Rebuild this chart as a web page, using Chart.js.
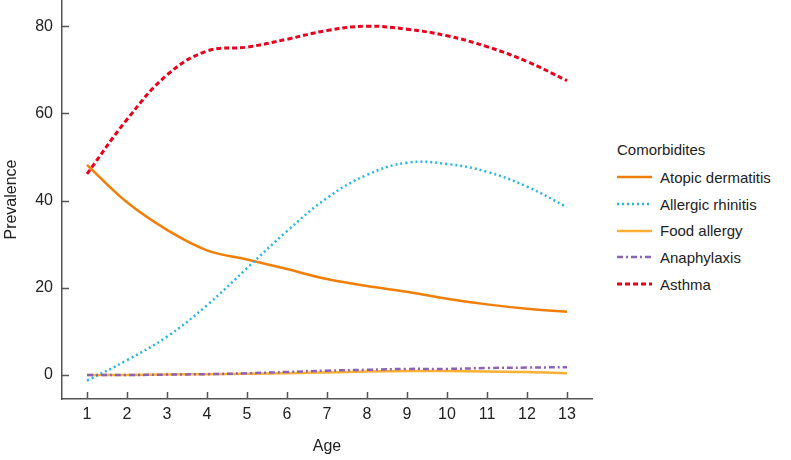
<!DOCTYPE html>
<html lang="en">
<head>
  <meta charset="UTF-8">
  <title>Comorbidities by age</title>
  <script src="https://cdn.jsdelivr.net/npm/chart.js"></script>
  <style>
    body {
      margin: 0;
      background: #fff;
      font-family: 'Liberation Sans', Arial, sans-serif;
      color: #222;
    }
    .wrap {
      position: relative;
      width: 791px;
      height: 460px;
    }
    .plot {
      position: absolute;
      left: 0;
      top: 0;
      width: 600px;
      height: 460px;
    }
    .legend {
      position: absolute;
      left: 617px;
      top: 140px;
      font-size: 15px;
      color: #222;
    }
    .legend-title {
      height: 24px;
      line-height: 20px;
    }
    .legend-row {
      height: 26.7px;
      display: flex;
      align-items: center;
    }
    .legend-row svg {
      margin-right: 7px;
    }
  </style>
</head>
<body>
  <div class="wrap">
    <div class="plot"><canvas id="chart" width="600" height="460"></canvas></div>
    <div class="legend" id="legend"></div>
  </div>

  <script>
    // data
    const ages = [1, 2, 3, 4, 5, 6, 7, 8, 9, 10, 11, 12, 13];
    const atopicDermatitis = [48.2, 39.6, 33.3, 28.6, 26.5, 24.3, 22.0, 20.4, 19.1, 17.5, 16.2, 15.2, 14.5];
    const allergicRhinitis = [-1.3, 3.4, 8.8, 16.0, 24.5, 33.0, 40.6, 45.9, 48.7, 48.4, 46.6, 43.2, 38.5];
    const foodAllergy = [0.0, 0.0, 0.1, 0.2, 0.3, 0.4, 0.6, 0.8, 0.9, 0.9, 0.8, 0.7, 0.4];
    const anaphylaxis = [0.0, 0.0, 0.1, 0.2, 0.4, 0.7, 1.0, 1.2, 1.4, 1.4, 1.6, 1.7, 1.8];
    const asthma = [46.1, 58.6, 68.8, 74.3, 75.2, 77.0, 79.0, 80.0, 79.3, 77.8, 75.3, 71.9, 67.5];
    const yTicks = [0, 20, 40, 60, 80];

    const series = [
      { label: 'Atopic dermatitis', values: atopicDermatitis, color: '#f07f09', dash: [], width: 2.5, order: 3 },
      { label: 'Allergic rhinitis', values: allergicRhinitis, color: '#27b5e2', dash: [2, 3], width: 2.5, order: 2 },
      { label: 'Food allergy', values: foodAllergy, color: '#fbb034', dash: [], width: 2.5, order: 4 },
      { label: 'Anaphylaxis', values: anaphylaxis, color: '#8a62b6', dash: [6, 3, 2, 3], width: 2.5, order: 1 },
      { label: 'Asthma', values: asthma, color: '#e8001c', dash: [5, 3], width: 3, order: 0 }
    ];

    const axisColor = '#555';
    const font = { family: "'Liberation Sans', Arial, sans-serif", size: 16 };

    // inner tick marks on both axes
    const innerTicks = {
      id: 'innerTicks',
      afterDraw(chart) {
        const c = chart.ctx;
        const xs = chart.scales.x, ys = chart.scales.y;
        const a = chart.chartArea;
        c.save();
        c.strokeStyle = axisColor;
        c.lineWidth = 1.5;
        c.beginPath();
        ages.forEach(v => {
          const px = Math.round(xs.getPixelForValue(v)) + 0.5;
          c.moveTo(px, a.bottom);
          c.lineTo(px, a.bottom - 7);
        });
        yTicks.forEach(v => {
          const py = Math.round(ys.getPixelForValue(v)) + 0.5;
          c.moveTo(a.left, py);
          c.lineTo(a.left + 7, py);
        });
        c.stroke();
        c.restore();
      }
    };

    const ctx = document.getElementById('chart').getContext('2d');
    const chart = new Chart(ctx, {
      type: 'line',
      data: {
        datasets: series.map(s => ({
          label: s.label,
          data: ages.map((a, i) => ({ x: a, y: s.values[i] })),
          borderColor: s.color,
          borderWidth: s.width,
          borderDash: s.dash,
          borderCapStyle: 'butt',
          pointRadius: 0,
          fill: false,
          tension: 0.4,
          order: s.order
        }))
      },
      options: {
        responsive: false,
        animation: false,
        devicePixelRatio: 1,
        layout: { padding: { top: 0, right: 8, bottom: 0, left: 0 } },
        plugins: {
          legend: { display: false },
          tooltip: { enabled: false }
        },
        scales: {
          x: {
            type: 'linear',
            min: 0.375,
            max: 13.625,
            afterBuildTicks: scale => { scale.ticks = ages.map(v => ({ value: v })); },
            afterFit: scale => { scale.height = 61; scale.paddingLeft = 0; scale.paddingRight = 0; },
            grid: { display: false, drawTicks: false },
            border: { display: true, color: axisColor, width: 1.5 },
            ticks: { color: '#222', font: font, padding: 6, maxRotation: 0 },
            title: { display: true, text: 'Age', color: '#222', font: font, padding: { top: 4, bottom: 4 } }
          },
          y: {
            min: -5.5,
            max: 86,
            afterBuildTicks: scale => { scale.ticks = yTicks.map(v => ({ value: v })); },
            afterFit: scale => { scale.width = 62; scale.paddingTop = 0; scale.paddingBottom = 0; },
            grid: { display: false, drawTicks: false },
            border: { display: true, color: axisColor, width: 1.5 },
            ticks: { color: '#222', font: font, padding: 9 },
            title: { display: true, text: 'Prevalence', color: '#222', font: font, padding: { top: 2, bottom: 2 } }
          }
        }
      },
      plugins: [innerTicks]
    });

    // legend built from the same series list
    const legend = document.getElementById('legend');
    let html = '<div class="legend-title">Comorbidites</div>';
    series.forEach(s => {
      html += '<div class="legend-row"><svg width="36" height="6"><line x1="0" y1="3" x2="35" y2="3" stroke="' + s.color +
        '" stroke-width="' + s.width + '" stroke-dasharray="' + (s.dash.length ? s.dash.join(',') : 'none') + '"/></svg>' +
        '<span>' + s.label + '</span></div>';
    });
    legend.innerHTML = html;
  </script>
</body>
</html>
